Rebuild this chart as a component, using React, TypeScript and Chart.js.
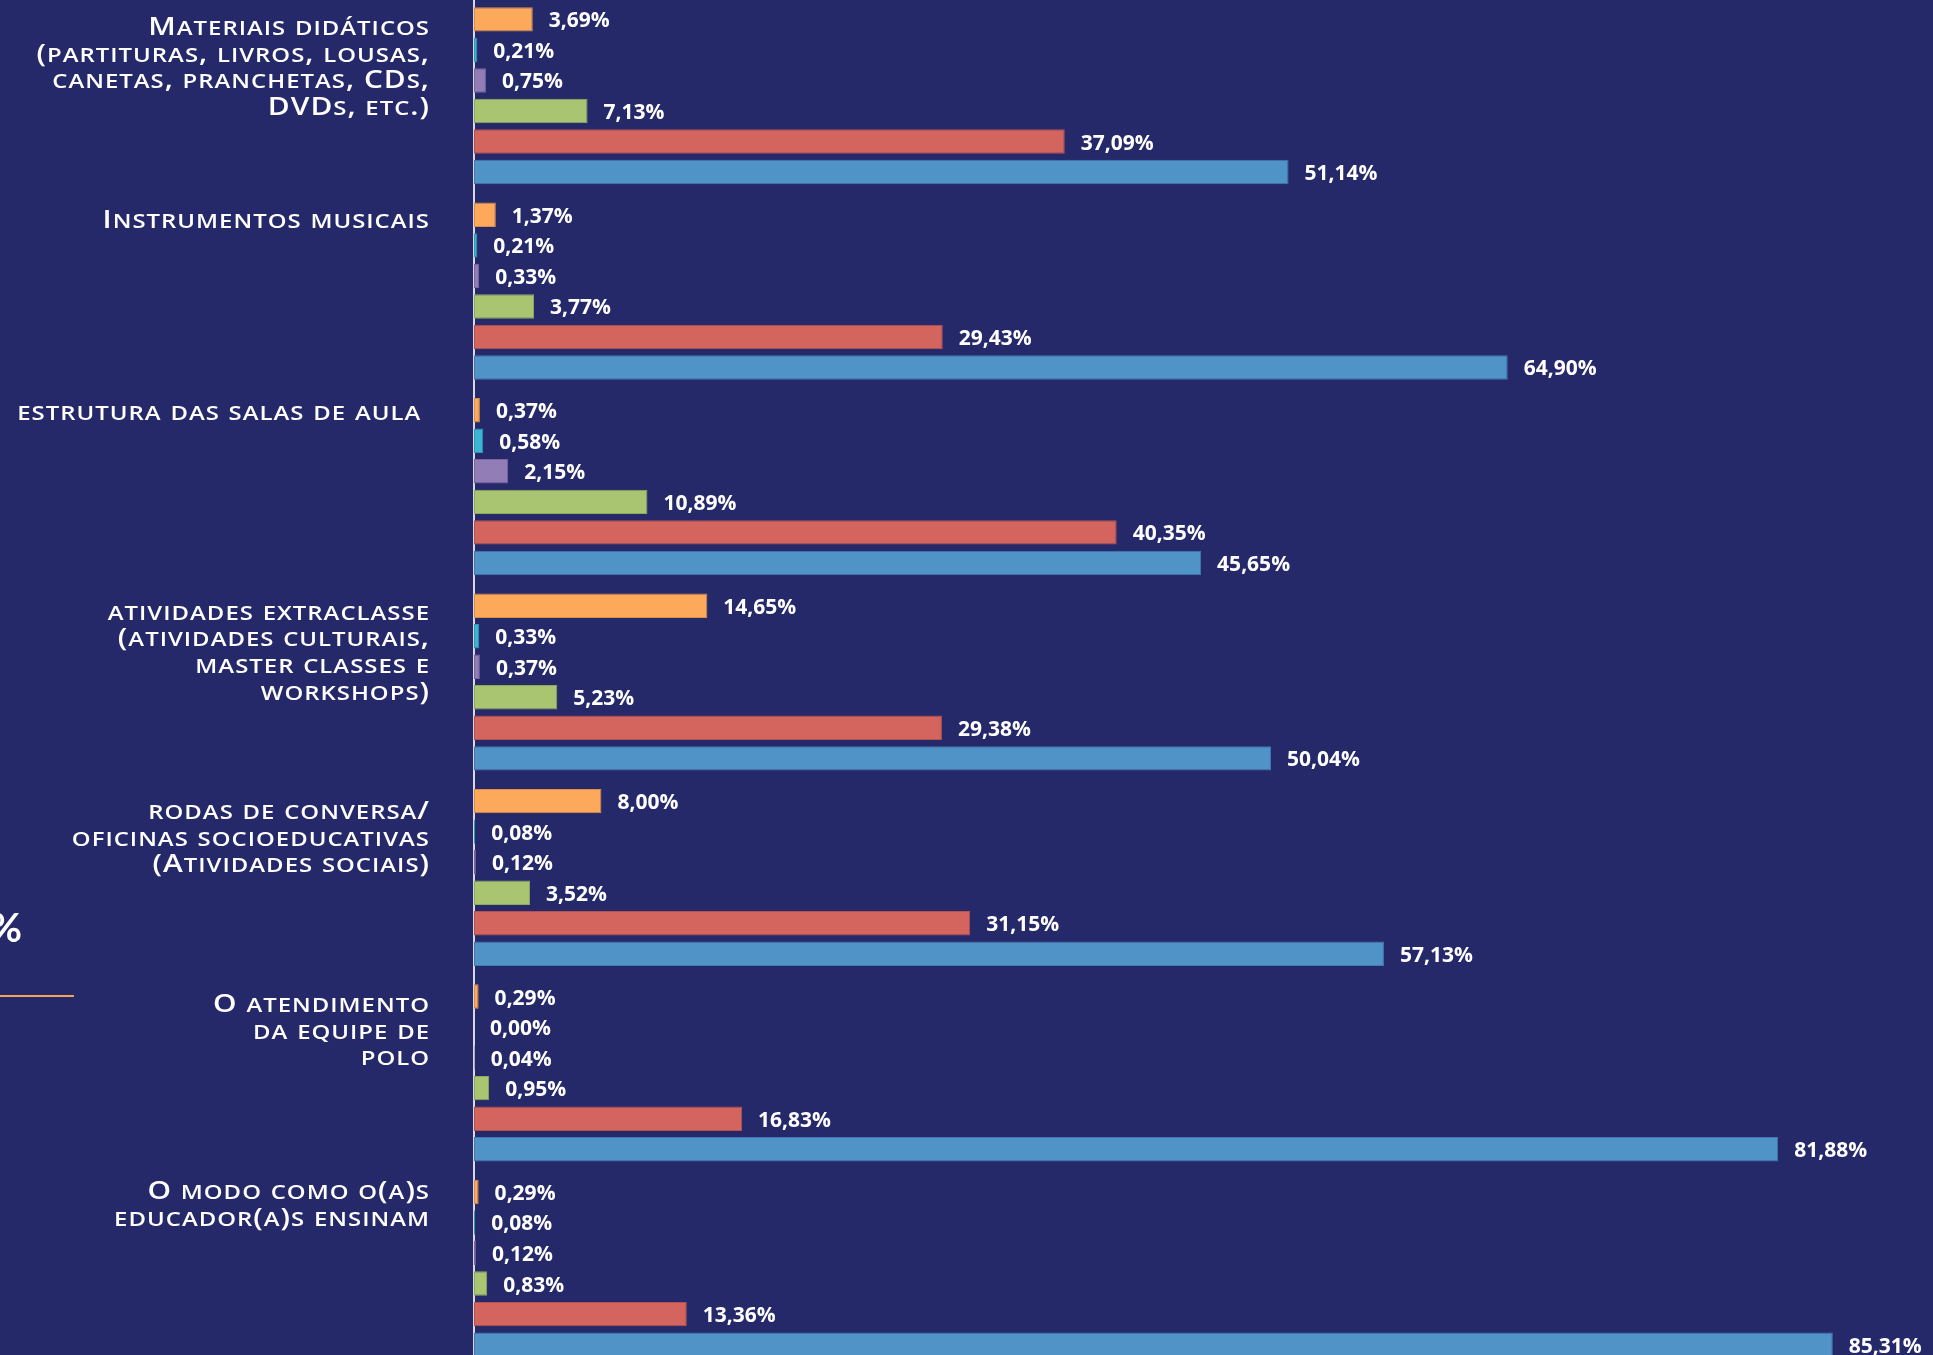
import { useEffect, useRef } from "react";
import { Chart, registerables } from "chart.js";

Chart.register(...registerables);

// ---------- data ----------
const categoryLines: string[][] = [
  ["Materiais didáticos", "(partituras, livros, lousas,", "canetas, pranchetas, CDs,", "DVDs, etc.)"],
  ["Instrumentos musicais"],
  ["estrutura das salas de aula "],
  ["atividades extraclasse", "(atividades culturais,", "master classes e", "workshops)"],
  ["rodas de conversa/", "oficinas socioeducativas", "(Atividades sociais)"],
  ["O atendimento", "da equipe de", "polo"],
  ["O modo como o(a)s", "educador(a)s ensinam"],
];
const categories = categoryLines.map((l) => l.join(" "));

const seriesNames = ["Série 1", "Série 2", "Série 3", "Série 4", "Série 5", "Série 6"];
const orangeValues = [3.69, 1.37, 0.37, 14.65, 8.0, 0.29, 0.29];
const cyanValues = [0.21, 0.21, 0.58, 0.33, 0.08, 0.0, 0.08];
const purpleValues = [0.75, 0.33, 2.15, 0.37, 0.12, 0.04, 0.12];
const greenValues = [7.13, 3.77, 10.89, 5.23, 3.52, 0.95, 0.83];
const redValues = [37.09, 29.43, 40.35, 29.38, 31.15, 16.83, 13.36];
const blueValues = [51.14, 64.9, 45.65, 50.04, 57.13, 81.88, 85.31];

// ---------- styling ----------
const BG = "#25296A";
const fills = ["#FDA95B", "#3DB4D3", "#937DB7", "#A9C572", "#D3645E", "#5093C6"];
const borders = ["#D98E4C", "#2F97B3", "#7A659E", "#8EAA5C", "#B45250", "#4478AE"];
const labelNudge = [15.5, 13, 10, 14, 18, 15.5, 7];

const fmt = (v: number) => v.toFixed(2).replace(".", ",") + "%";

function drawSmallCaps(
  ctx: CanvasRenderingContext2D,
  text: string,
  xRight: number,
  y: number,
  size: number,
  ratio: number,
  family: string,
  spacing: number,
  stretch: number
) {
  const chars: { t: string; small: boolean }[] = [];
  for (const ch of text) {
    const small = ch !== ch.toUpperCase();
    chars.push({ t: small ? ch.toUpperCase() : ch, small });
  }
  const fontFor = (small: boolean) => `600 ${small ? size * ratio : size}px ${family}`;
  const c: any = ctx;
  c.letterSpacing = "0px";
  const adv = chars.map((ch) => {
    ctx.font = fontFor(ch.small);
    return ctx.measureText(ch.t).width * stretch + spacing;
  });
  const total = adv.reduce((a, b) => a + b, 0) - spacing;
  let x = xRight - total;
  ctx.textAlign = "left";
  ctx.textBaseline = "alphabetic";
  chars.forEach((ch, i) => {
    ctx.font = fontFor(ch.small);
    ctx.save();
    ctx.translate(x, y);
    ctx.scale(stretch, 1);
    ctx.fillText(ch.t, 0, 0);
    ctx.restore();
    x += adv[i];
  });
}

const overlayPlugin = {
  id: "overlay",
  beforeDraw(chart: any) {
    const { ctx, width, height } = chart;
    ctx.save();
    ctx.fillStyle = BG;
    ctx.fillRect(0, 0, width, height);
    ctx.restore();
  },
  afterDatasetsDraw(chart: any) {
    const ctx: CanvasRenderingContext2D = chart.ctx;
    ctx.save();
    // value labels
    ctx.fillStyle = "#FFFFFF";
    ctx.font = "700 21px 'Open Sans'";
    ctx.textAlign = "left";
    ctx.textBaseline = "middle";
    chart.data.datasets.forEach((ds: any, di: number) => {
      const meta = chart.getDatasetMeta(di);
      meta.data.forEach((el: any, i: number) => {
        ctx.fillText(fmt(ds.data[i]), el.x + 16, el.y + 2);
      });
    });
    // category labels (small caps)
    const first = chart.getDatasetMeta(0);
    categoryLines.forEach((lines, i) => {
      const y0 = first.data[i].y + labelNudge[i];
      lines.forEach((line, li) => {
        drawSmallCaps(ctx, line, 429, y0 + li * 26.7, 24.5, 0.8, "'Open Sans'", 1, 1.22);
      });
    });
    // decorative remnants on the left
    ctx.fillStyle = "#FFFFFF";
    ctx.font = "700 40px Lato";
    ctx.textAlign = "right";
    ctx.textBaseline = "alphabetic";
    ctx.fillText("%", 22, 944);
    ctx.strokeStyle = "#F4A553";
    ctx.lineWidth = 2;
    ctx.beginPath();
    ctx.moveTo(0, 998);
    ctx.lineTo(74, 998);
    ctx.stroke();
    ctx.restore();
  },
};

export default function App() {
  const ref = useRef<HTMLCanvasElement | null>(null);
  useEffect(() => {
    if (!ref.current) return;
    const values = [orangeValues, cyanValues, purpleValues, greenValues, redValues, blueValues];
    const chart = new Chart(ref.current, {
      type: "bar",
      data: {
        labels: categories,
        datasets: values.map((d, i) => ({
          label: seriesNames[i],
          data: d,
          backgroundColor: fills[i],
          borderColor: borders[i],
          borderWidth: 1,
          borderSkipped: false,
          categoryPercentage: 0.9375,
          barPercentage: 0.8,
        })),
      },
      options: {
        indexAxis: "y",
        animation: false,
        responsive: false,
        devicePixelRatio: 1,
        layout: { padding: 0 },
        plugins: { legend: { display: false }, tooltip: { enabled: false } },
        scales: {
          x: { display: false, min: 0, max: 91.6 },
          y: {
            display: true,
            ticks: { display: false },
            grid: { display: false },
            border: { display: true, color: "#D8D8E0", width: 2 },
            afterFit: (s: any) => {
              s.width = 474;
            },
          },
        },
      },
      plugins: [overlayPlugin],
    });
    return () => chart.destroy();
  }, []);
  return (
    <div style={{ position: "absolute", left: 0, top: 0, width: 1933, height: 1355, overflow: "hidden", background: BG }}>
      <canvas ref={ref} width={1933} height={1368} style={{ position: "absolute", left: 0, top: -2, width: 1933, height: 1368 }} />
    </div>
  );
}
